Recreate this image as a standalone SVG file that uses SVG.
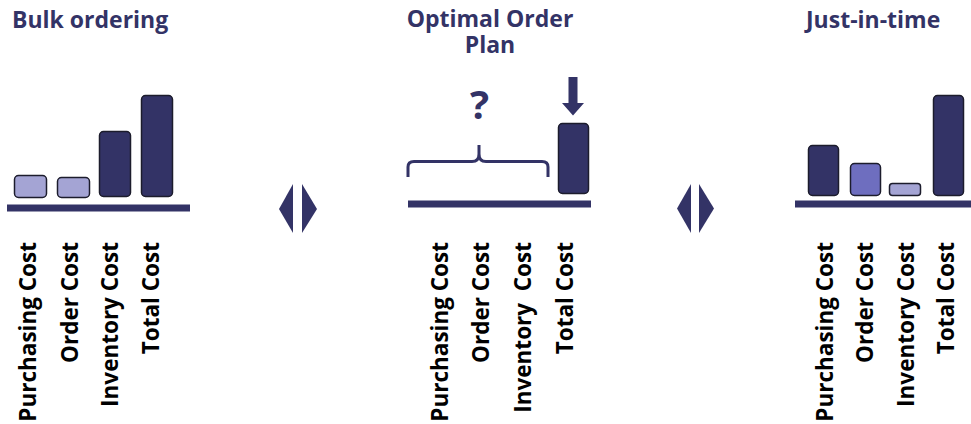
<svg xmlns="http://www.w3.org/2000/svg" width="971" height="424" viewBox="0 0 971 424">
<style>
.title{font-family:"Open Sans","Noto Sans",sans-serif;font-weight:700;font-size:23px;fill:#333366}
.lbl{font-family:"Open Sans","Noto Sans",sans-serif;font-weight:700;font-size:22.5px;fill:#000;text-anchor:end;white-space:pre}
.bar{stroke:#1c1c2c;stroke-width:1.5}
.dark{fill:#333366}
.light{fill:#a4a4d4}
.mid{fill:#6e6ebf}
.base{fill:#333366}
.navy{fill:#333366}
</style>
<rect width="971" height="424" fill="#fff"/>

<g id="bulk">
  <text class="title" x="12" y="28">Bulk ordering</text>
  <rect class="bar light" x="14.5" y="175.5" width="32" height="22" rx="4"/>
  <rect class="bar light" x="57.5" y="177.5" width="32" height="20" rx="4"/>
  <rect class="bar dark" x="99.5" y="131.5" width="31" height="65" rx="4"/>
  <rect class="bar dark" x="141.5" y="95.5" width="31" height="101" rx="4"/>
  <rect class="base" x="7" y="204.5" width="183" height="7"/>
  <text class="lbl" transform="translate(36,242) rotate(-90)">Purchasing Cost</text>
  <text class="lbl" transform="translate(78,242) rotate(-90)">Order Cost</text>
  <text class="lbl" transform="translate(118,242) rotate(-90)">Inventory Cost</text>
  <text class="lbl" transform="translate(159,242) rotate(-90)">Total Cost</text>
</g>

<g id="optimal">
  <text class="title" x="490" y="27" text-anchor="middle">Optimal Order</text>
  <text class="title" x="490" y="53" text-anchor="middle">Plan</text>
  <text x="479.5" y="119" text-anchor="middle" style="font-family:'Open Sans','Noto Sans',sans-serif;font-weight:700;font-size:40px;fill:#333366">?</text>
  <path d="M408,177 V167 Q408,161.5 414,161.5 H472 Q479,161.5 479,154 V145 M479,145 V154 Q479,161.5 486,161.5 H542 Q548,161.5 548,167 V177" fill="none" stroke="#333366" stroke-width="3"/>
  <path class="navy" d="M568.5,77 H577.5 V103 H584 L573,115.5 L562,103 H568.5 Z"/>
  <rect class="bar dark" x="558.5" y="123.5" width="30" height="70" rx="4"/>
  <rect class="base" x="408" y="200.5" width="183" height="7"/>
  <text class="lbl" transform="translate(448,242) rotate(-90)">Purchasing Cost</text>
  <text class="lbl" transform="translate(489,242) rotate(-90)">Order Cost</text>
  <text class="lbl" transform="translate(531,242) rotate(-90)">Inventory  Cost</text>
  <text class="lbl" transform="translate(573,242) rotate(-90)">Total Cost</text>
</g>

<g id="jit">
  <text class="title" x="806" y="28">Just-in-time</text>
  <rect class="bar dark" x="808.5" y="145.5" width="30" height="50" rx="4"/>
  <rect class="bar mid" x="850.5" y="163.5" width="30" height="32" rx="4"/>
  <rect class="bar light" x="889.5" y="183.5" width="31" height="12" rx="3"/>
  <rect class="bar dark" x="933.5" y="95.5" width="30" height="100" rx="4"/>
  <rect class="base" x="795" y="200.5" width="176" height="7"/>
  <text class="lbl" transform="translate(833,242) rotate(-90)">Purchasing Cost</text>
  <text class="lbl" transform="translate(873,242) rotate(-90)">Order Cost</text>
  <text class="lbl" transform="translate(914,242) rotate(-90)">Inventory Cost</text>
  <text class="lbl" transform="translate(954,242) rotate(-90)">Total Cost</text>
</g>

<g id="connectors">
  <polygon class="navy" points="279,209 293,184 293,233"/>
  <polygon class="navy" points="302,184 302,233 317,209"/>
  <polygon class="navy" points="677,208.5 691,184 691,233"/>
  <polygon class="navy" points="699,184 699,233 714,208.5"/>
</g>
</svg>
